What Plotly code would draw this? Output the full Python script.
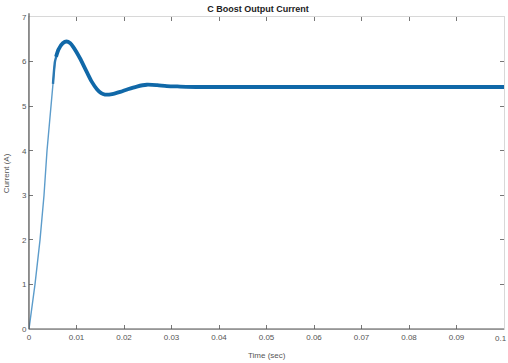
import plotly.graph_objects as go

# Rise segment (thin), transition segment (medium) and oscillation/steady segment (thick ripple band)
rise_time = [0.0, 0.00126, 0.00232, 0.00316, 0.00379, 0.00463, 0.00547]
rise_current = [0.0, 1.0, 2.0, 3.0, 4.0, 5.0, 6.0]

mid_time = [0.00505, 0.00547, 0.0059, 0.0062]
mid_current = [5.5, 6.0, 6.17, 6.27]

main_time = [0.0057, 0.0062, 0.0071, 0.0079, 0.0087, 0.0093, 0.0107, 0.0121,
             0.0132, 0.0143, 0.0152, 0.016, 0.0175, 0.0192, 0.0208, 0.0227, 0.0248,
             0.027, 0.029, 0.0318, 0.036, 0.05, 0.07, 0.09, 0.1]
main_current = [6.11, 6.27, 6.41, 6.45, 6.41, 6.33, 6.08, 5.78,
                5.55, 5.38, 5.29, 5.26, 5.27, 5.32, 5.38, 5.44, 5.48,
                5.47, 5.45, 5.44, 5.43, 5.43, 5.43, 5.43, 5.43]

x_ticks = [0, 0.01, 0.02, 0.03, 0.04, 0.05, 0.06, 0.07, 0.08, 0.09, 0.1]
x_tick_labels = ["0", "0.01", "0.02", "0.03", "0.04", "0.05", "0.06", "0.07", "0.08", "0.09", "0.1"]
y_ticks = [0, 1, 2, 3, 4, 5, 6, 7]
y_tick_labels = ["0", "1", "2", "3", "4", "5", "6", "7"]

FONT = "Liberation Sans, Arial, sans-serif"

fig = go.Figure()
fig.add_trace(go.Scatter(x=rise_time, y=rise_current, mode="lines",
                         line=dict(color="#5c9ccb", width=1.4), showlegend=False))
fig.add_trace(go.Scatter(x=mid_time, y=mid_current, mode="lines",
                         line=dict(color="#2a78b2", width=2.4, shape="spline", smoothing=0.6),
                         showlegend=False))
fig.add_trace(go.Scatter(x=main_time, y=main_current, mode="lines",
                         line=dict(color="#1068a8", width=3.8, shape="spline", smoothing=0.7),
                         showlegend=False))

tick_font = dict(family=FONT, size=8, color="#555555")

fig.update_layout(
    width=508, height=363,
    margin=dict(l=29, r=4, t=17, b=34),
    paper_bgcolor="white", plot_bgcolor="white",
    title=dict(text="<b>C Boost Output Current</b>", x=0.508, xanchor="center",
               y=0.975, yanchor="middle",
               font=dict(family=FONT, size=9, color="#222222")),
    xaxis=dict(range=[0, 0.1], tickvals=x_ticks[:-1], ticktext=x_tick_labels[:-1],
               ticks="inside", ticklen=4, tickcolor="#777777", tickfont=tick_font,
               showgrid=False, zeroline=False, showline=True, linecolor="#d8d8d8",
               mirror="ticks", automargin=False),
    yaxis=dict(range=[0, 7], tickvals=y_ticks, ticktext=y_tick_labels,
               ticks="inside", ticklen=4, tickcolor="#777777", tickfont=tick_font,
               showgrid=False, zeroline=False, showline=True, linecolor="#d8d8d8",
               mirror="ticks", automargin=False),
)

# Last x tick label placed so it stays inside the page
fig.add_annotation(text=x_tick_labels[-1], xref="x", yref="paper", x=x_ticks[-1], y=0,
                   xanchor="right", yanchor="top", xshift=5, yshift=-3, showarrow=False,
                   font=tick_font)

fig.add_annotation(text="Time (sec)", xref="paper", yref="paper", x=0.5, y=-0.085,
                   xanchor="center", yanchor="middle", showarrow=False,
                   font=dict(family=FONT, size=8, color="#555555"))
fig.add_annotation(text="Current (A)", xref="paper", yref="paper", x=-0.048, y=0.5,
                   xanchor="center", yanchor="middle", showarrow=False, textangle=-90,
                   font=dict(family=FONT, size=8, color="#555555"))

# Dark left and bottom axis lines
fig.add_shape(type="line", xref="paper", yref="paper", x0=0, x1=0, y0=0, y1=1.012,
              line=dict(color="#555555", width=1.2))
fig.add_shape(type="line", xref="paper", yref="paper", x0=0, x1=1, y0=0, y1=0,
              line=dict(color="#555555", width=1.2))

fig.write_html("out.html", config={"displayModeBar": False},
               post_script="document.body.style.margin='0';document.body.style.overflow='hidden';")
